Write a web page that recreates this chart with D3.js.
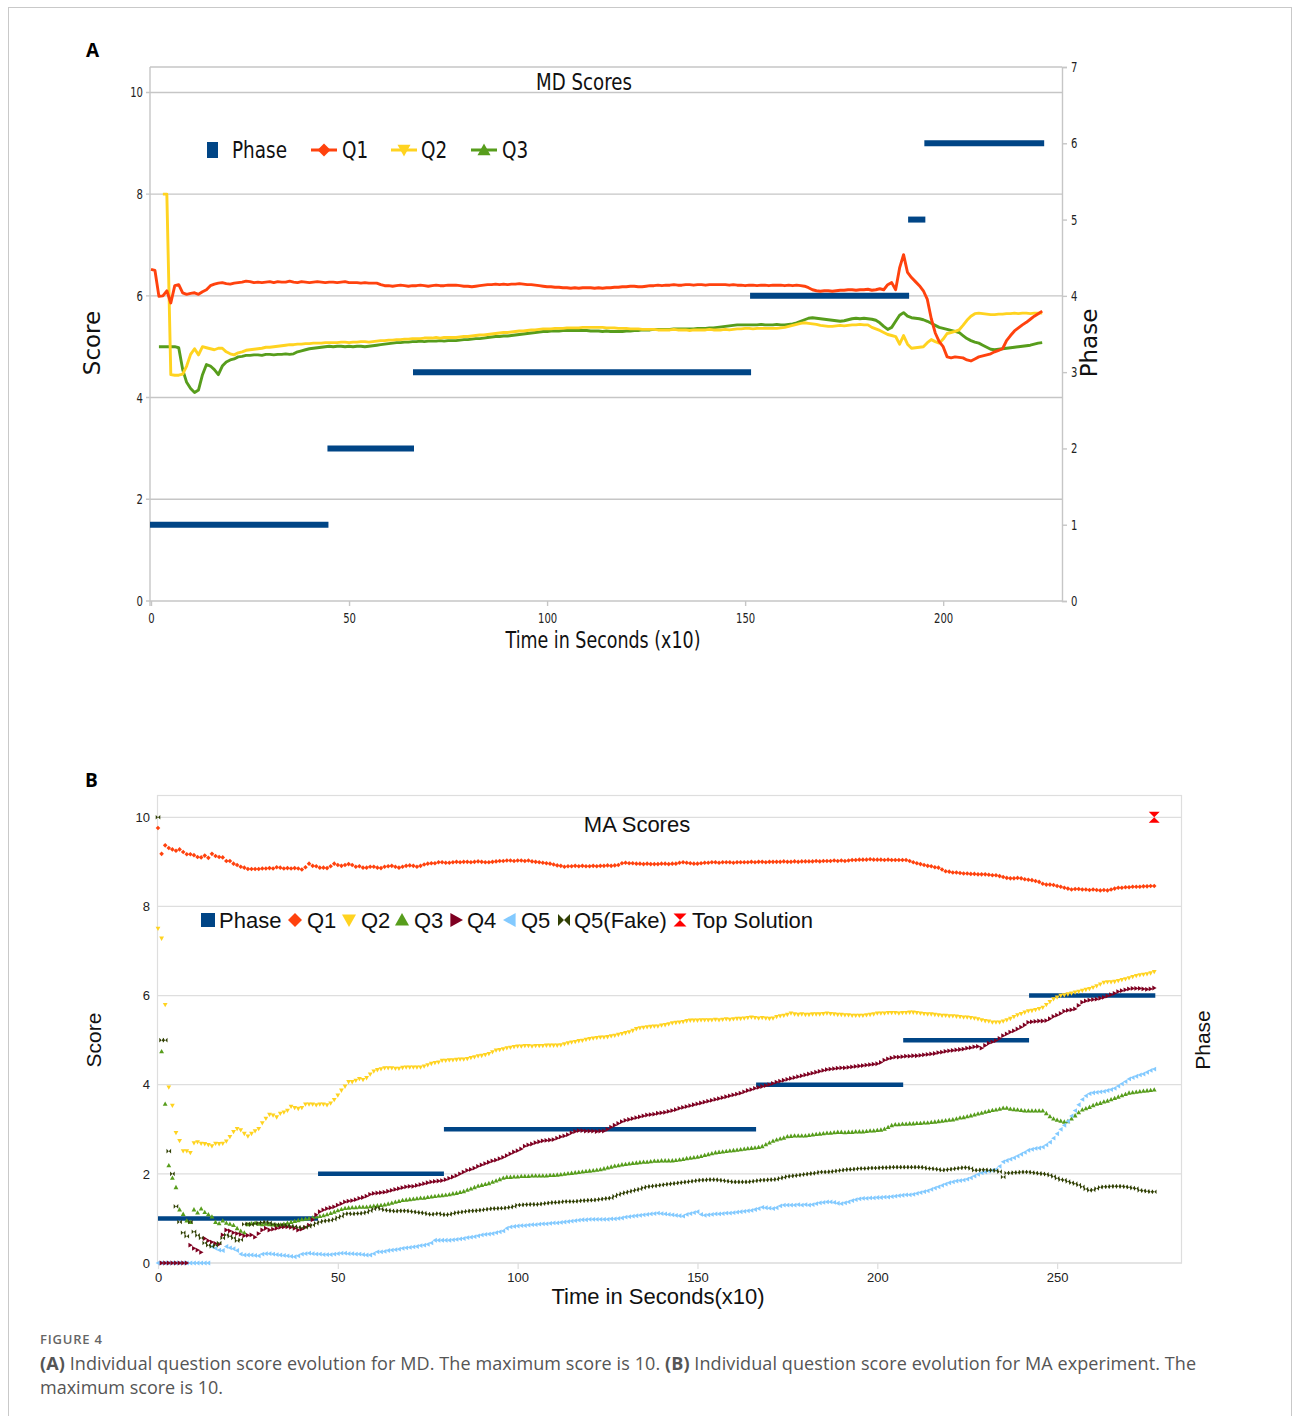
<!DOCTYPE html>
<html>
<head>
<meta charset="utf-8">
<script src="https://cdnjs.cloudflare.com/ajax/libs/d3/7.8.5/d3.min.js"></script>
<style>
  body { margin: 0; background: #fff; }
  svg { display: block; }
</style>
</head>
<body>
<svg id="fig" width="1293" height="1416"></svg>
<script>
// ---------- Panel A: MD scores, one sample per time step (x10 s) ----------
const mdQ1 = [
  6.52,6.50,5.99,6.00,6.10,5.86,6.20,6.22,6.06,6.03,
  6.05,6.06,6.03,6.08,6.12,6.20,6.23,6.25,6.26,6.24,
  6.23,6.25,6.26,6.27,6.29,6.28,6.26,6.27,6.26,6.27,
  6.28,6.26,6.28,6.27,6.27,6.29,6.27,6.26,6.28,6.27,
  6.26,6.27,6.28,6.27,6.26,6.27,6.27,6.26,6.27,6.28,
  6.26,6.26,6.26,6.25,6.26,6.25,6.25,6.25,6.22,6.20,
  6.20,6.19,6.20,6.21,6.20,6.19,6.20,6.20,6.21,6.20,
  6.19,6.20,6.21,6.20,6.20,6.21,6.21,6.21,6.20,6.19,
  6.19,6.18,6.19,6.20,6.21,6.22,6.22,6.23,6.22,6.23,
  6.22,6.23,6.23,6.24,6.23,6.22,6.22,6.21,6.20,6.19,
  6.18,6.18,6.17,6.17,6.16,6.16,6.15,6.16,6.15,6.16,
  6.16,6.16,6.15,6.16,6.15,6.16,6.16,6.17,6.17,6.18,
  6.18,6.19,6.19,6.18,6.18,6.19,6.20,6.20,6.21,6.20,
  6.21,6.21,6.22,6.21,6.21,6.22,6.22,6.21,6.22,6.22,
  6.21,6.22,6.22,6.22,6.22,6.22,6.21,6.22,6.21,6.21,
  6.20,6.21,6.21,6.20,6.21,6.21,6.20,6.21,6.21,6.21,
  6.20,6.21,6.20,6.21,6.20,6.19,6.16,6.12,6.10,6.09,
  6.10,6.10,6.09,6.10,6.11,6.11,6.12,6.12,6.11,6.12,
  6.12,6.13,6.11,6.12,6.14,6.12,6.22,6.26,6.12,6.55,
  6.81,6.46,6.36,6.28,6.20,6.10,5.93,5.55,5.27,5.10,
  5.00,4.80,4.78,4.80,4.79,4.78,4.74,4.72,4.76,4.80,
  4.82,4.84,4.86,4.90,4.93,4.96,5.12,5.22,5.31,5.37,
  5.43,5.48,5.54,5.60,5.65,5.70
];
const mdQ2 = [
  null,null,null,8.00,8.00,4.45,4.44,4.44,4.46,4.62,
  4.85,4.96,4.84,5.00,4.98,4.96,4.94,4.97,4.97,4.90,
  4.86,4.84,4.88,4.90,4.93,4.94,4.95,4.96,4.97,4.99,
  4.99,5.00,5.01,5.02,5.03,5.04,5.04,5.05,5.05,5.06,
  5.06,5.07,5.07,5.07,5.08,5.08,5.08,5.08,5.09,5.09,
  5.08,5.09,5.09,5.10,5.10,5.09,5.10,5.11,5.12,5.12,
  5.13,5.13,5.14,5.14,5.15,5.15,5.16,5.16,5.16,5.17,
  5.17,5.17,5.18,5.17,5.18,5.18,5.18,5.18,5.19,5.20,
  5.20,5.21,5.22,5.23,5.23,5.24,5.25,5.26,5.27,5.28,
  5.28,5.29,5.30,5.31,5.31,5.32,5.33,5.33,5.34,5.35,
  5.35,5.35,5.36,5.36,5.36,5.37,5.37,5.37,5.37,5.38,
  5.38,5.38,5.38,5.38,5.38,5.37,5.37,5.37,5.36,5.36,
  5.36,5.35,5.35,5.35,5.34,5.34,5.34,5.34,5.33,5.33,
  5.33,5.33,5.34,5.33,5.33,5.33,5.32,5.33,5.33,5.33,
  5.33,5.34,5.33,5.33,5.33,5.34,5.33,5.34,5.35,5.35,
  5.36,5.36,5.35,5.36,5.36,5.36,5.36,5.36,5.36,5.37,
  5.38,5.40,5.42,5.44,5.46,5.47,5.46,5.45,5.44,5.42,
  5.41,5.40,5.40,5.41,5.42,5.41,5.42,5.43,5.43,5.44,
  5.43,5.43,5.38,5.35,5.32,5.28,5.24,5.22,5.20,5.05,
  5.22,5.05,4.97,4.98,4.99,5.00,5.08,5.14,5.10,5.07,
  5.15,5.26,5.28,5.30,5.33,5.42,5.52,5.60,5.65,5.66,
  5.65,5.64,5.63,5.63,5.64,5.64,5.65,5.65,5.66,5.65,
  5.66,5.66,5.65,5.66,5.66,5.66
];
const mdQ3 = [
  null,null,5.00,5.00,5.00,5.00,5.00,4.98,4.55,4.30,
  4.18,4.10,4.15,4.45,4.65,4.62,4.55,4.45,4.62,4.70,
  4.74,4.76,4.80,4.81,4.83,4.83,4.84,4.84,4.83,4.85,
  4.85,4.84,4.85,4.85,4.86,4.85,4.86,4.90,4.92,4.94,
  4.96,4.97,4.98,4.99,5.00,5.01,5.00,5.01,5.01,5.00,
  5.01,5.00,5.01,5.01,5.00,5.01,5.02,5.03,5.04,5.05,
  5.06,5.07,5.08,5.08,5.09,5.09,5.10,5.10,5.11,5.10,
  5.11,5.11,5.11,5.12,5.11,5.12,5.12,5.12,5.13,5.14,
  5.14,5.15,5.16,5.16,5.17,5.18,5.19,5.20,5.20,5.21,
  5.21,5.22,5.23,5.24,5.25,5.26,5.27,5.28,5.29,5.30,
  5.30,5.31,5.31,5.31,5.32,5.32,5.32,5.32,5.32,5.32,
  5.32,5.31,5.31,5.31,5.30,5.31,5.30,5.30,5.30,5.30,
  5.31,5.31,5.32,5.32,5.33,5.33,5.33,5.34,5.34,5.34,
  5.34,5.34,5.35,5.35,5.35,5.35,5.35,5.35,5.36,5.36,
  5.36,5.37,5.37,5.38,5.39,5.40,5.41,5.42,5.43,5.43,
  5.43,5.43,5.43,5.43,5.44,5.43,5.43,5.43,5.44,5.43,
  5.43,5.44,5.45,5.47,5.50,5.53,5.56,5.57,5.56,5.55,
  5.54,5.53,5.52,5.51,5.50,5.51,5.53,5.55,5.56,5.55,
  5.56,5.55,5.54,5.52,5.47,5.40,5.34,5.38,5.50,5.62,
  5.67,5.60,5.57,5.56,5.55,5.53,5.50,5.46,5.42,5.38,
  5.36,5.34,5.32,5.30,5.28,5.22,5.16,5.12,5.09,5.07,
  5.03,4.99,4.95,4.94,4.95,4.96,4.97,4.98,4.99,5.00,
  5.01,5.02,5.03,5.05,5.07,5.08
];
// phase segments: start time, end time, phase number
const mdPhaseStart = [0, 44.8, 66.4, 151.5, 191.4, 195.5];
const mdPhaseEnd   = [44.8, 66.4, 151.5, 191.4, 195.5, 225.5];
const mdPhaseLevel = [1, 2, 3, 4, 5, 6];
const mdTimeTicks  = [0, 50, 100, 150, 200];
const mdScoreTicks = [0, 2, 4, 6, 8, 10];
const mdPhaseTicks = [0, 1, 2, 3, 4, 5, 6, 7];

// ---------- Panel B: MA scores, one sample per time step (x10 s) ----------
const maQ1 = [
  9.76,9.18,9.37,9.31,9.28,9.25,9.28,9.22,9.17,9.17,
  9.15,9.11,9.10,9.14,9.09,9.18,9.13,9.11,9.10,9.02,
  9.02,8.96,8.93,8.89,8.87,8.84,8.84,8.84,8.84,8.85,
  8.85,8.86,8.85,8.88,8.87,8.85,8.86,8.85,8.86,8.85,
  8.83,8.88,8.96,8.91,8.90,8.87,8.87,8.86,8.90,8.96,
  8.93,8.91,8.93,8.95,8.93,8.89,8.90,8.87,8.87,8.89,
  8.89,8.87,8.86,8.89,8.90,8.91,8.89,8.87,8.89,8.91,
  8.92,8.91,8.89,8.91,8.94,8.96,8.97,8.97,8.99,8.99,
  8.98,8.98,8.99,9.00,8.99,9.00,9.00,8.99,9.00,9.01,
  9.00,8.99,8.99,9.00,9.01,9.02,9.02,9.03,9.03,9.02,
  9.03,9.03,9.02,9.03,9.01,9.00,8.99,8.98,8.97,8.96,
  8.94,8.92,8.91,8.89,8.90,8.90,8.91,8.90,8.91,8.90,
  8.90,8.91,8.90,8.91,8.91,8.92,8.91,8.92,8.93,8.97,
  8.98,8.97,8.97,8.96,8.96,8.95,8.96,8.95,8.95,8.95,
  8.96,8.96,8.95,8.96,8.96,8.98,8.99,8.98,8.97,8.96,
  8.96,8.97,8.98,8.98,8.99,8.99,8.98,8.99,8.99,8.99,
  8.98,8.99,8.99,8.99,8.99,9.00,8.99,9.00,9.00,8.99,
  9.00,9.00,9.00,9.00,9.01,9.00,9.00,9.01,9.00,9.01,
  9.01,9.01,9.01,9.02,9.01,9.02,9.02,9.02,9.03,9.02,
  9.03,9.02,9.03,9.04,9.04,9.05,9.05,9.05,9.06,9.05,
  9.05,9.05,9.04,9.05,9.04,9.04,9.04,9.04,9.04,9.02,
  8.99,8.97,8.95,8.93,8.91,8.90,8.88,8.87,8.83,8.79,
  8.78,8.76,8.76,8.75,8.74,8.74,8.73,8.73,8.72,8.72,
  8.72,8.71,8.70,8.70,8.68,8.66,8.64,8.63,8.63,8.64,
  8.63,8.61,8.60,8.59,8.57,8.55,8.51,8.49,8.49,8.48,
  8.46,8.44,8.42,8.40,8.38,8.39,8.39,8.38,8.38,8.37,
  8.38,8.37,8.36,8.37,8.36,8.38,8.40,8.42,8.42,8.43,
  8.43,8.44,8.44,8.44,8.45,8.45,8.46,8.46
];
const maQ2 = [
  7.50,7.28,5.79,3.94,3.53,2.92,2.74,2.51,2.51,2.47,
  2.69,2.71,2.68,2.67,2.65,2.62,2.68,2.67,2.68,2.73,
  2.83,2.94,3.01,2.98,2.90,2.84,2.90,2.96,3.01,3.14,
  3.24,3.33,3.31,3.27,3.35,3.38,3.42,3.51,3.48,3.46,
  3.48,3.56,3.56,3.56,3.54,3.56,3.56,3.54,3.58,3.66,
  3.76,3.87,3.96,4.06,4.06,4.09,4.13,4.11,4.15,4.23,
  4.30,4.33,4.35,4.37,4.37,4.37,4.36,4.36,4.38,4.39,
  4.39,4.39,4.39,4.39,4.41,4.44,4.47,4.49,4.50,4.54,
  4.54,4.55,4.55,4.56,4.57,4.57,4.58,4.60,4.62,4.64,
  4.65,4.67,4.69,4.73,4.77,4.78,4.80,4.82,4.83,4.85,
  4.86,4.86,4.87,4.87,4.86,4.87,4.87,4.87,4.88,4.88,
  4.88,4.88,4.89,4.91,4.93,4.95,4.96,4.98,4.99,5.01,
  5.03,5.04,5.05,5.06,5.06,5.07,5.09,5.10,5.12,5.14,
  5.16,5.18,5.21,5.25,5.27,5.28,5.29,5.30,5.31,5.31,
  5.33,5.34,5.36,5.38,5.39,5.40,5.41,5.43,5.44,5.44,
  5.44,5.45,5.45,5.45,5.45,5.46,5.45,5.46,5.47,5.46,
  5.47,5.48,5.48,5.49,5.50,5.51,5.50,5.49,5.50,5.49,
  5.48,5.49,5.52,5.54,5.55,5.57,5.60,5.58,5.57,5.58,
  5.57,5.57,5.58,5.58,5.58,5.59,5.60,5.59,5.58,5.57,
  5.57,5.56,5.56,5.55,5.55,5.55,5.55,5.56,5.57,5.58,
  5.60,5.60,5.60,5.61,5.61,5.61,5.60,5.61,5.61,5.62,
  5.62,5.61,5.60,5.59,5.58,5.58,5.57,5.56,5.55,5.55,
  5.54,5.54,5.53,5.52,5.51,5.51,5.50,5.49,5.47,5.45,
  5.43,5.42,5.40,5.40,5.40,5.42,5.45,5.48,5.52,5.56,
  5.59,5.62,5.65,5.66,5.68,5.70,5.73,5.79,5.86,5.92,
  5.96,6.00,6.01,6.03,6.05,6.07,6.09,6.11,6.13,6.15,
  6.18,6.21,6.25,6.29,6.30,6.30,6.31,6.33,6.35,6.37,
  6.39,6.42,6.44,6.46,6.47,6.48,6.50,6.53
];
const maQ3 = [
  null,4.75,3.57,2.19,1.91,1.70,1.20,1.10,0.95,0.92,
  1.20,1.13,1.22,1.14,1.09,1.04,0.92,0.89,0.95,0.90,
  0.88,0.85,0.78,0.72,0.68,0.87,0.89,0.90,0.88,0.87,
  0.88,0.87,0.86,0.85,0.86,0.88,0.90,0.92,0.94,0.96,
  0.98,0.99,1.00,1.02,1.04,1.05,1.07,1.09,1.12,1.15,
  1.18,1.21,1.23,1.24,1.25,1.25,1.26,1.26,1.26,1.27,
  1.28,1.29,1.30,1.31,1.33,1.35,1.37,1.39,1.41,1.42,
  1.43,1.44,1.45,1.46,1.46,1.48,1.49,1.50,1.51,1.52,
  1.53,1.54,1.56,1.57,1.59,1.61,1.64,1.67,1.70,1.73,
  1.75,1.77,1.79,1.82,1.85,1.88,1.91,1.93,1.93,1.94,
  1.94,1.95,1.95,1.95,1.96,1.96,1.96,1.96,1.96,1.97,
  1.97,1.98,1.99,2.00,2.01,2.02,2.03,2.04,2.05,2.06,
  2.07,2.08,2.09,2.10,2.12,2.14,2.16,2.18,2.19,2.21,
  2.22,2.23,2.24,2.25,2.26,2.27,2.27,2.28,2.29,2.29,
  2.30,2.30,2.30,2.30,2.31,2.32,2.33,2.35,2.36,2.37,
  2.38,2.40,2.42,2.44,2.46,2.48,2.49,2.50,2.51,2.52,
  2.53,2.54,2.55,2.56,2.57,2.58,2.59,2.60,2.62,2.66,
  2.70,2.74,2.77,2.79,2.81,2.84,2.85,2.86,2.86,2.86,
  2.86,2.87,2.88,2.89,2.90,2.91,2.92,2.92,2.93,2.94,
  2.94,2.93,2.94,2.94,2.95,2.95,2.95,2.96,2.97,2.97,
  2.98,2.99,3.01,3.05,3.09,3.11,3.11,3.12,3.12,3.13,
  3.13,3.14,3.14,3.15,3.15,3.16,3.17,3.18,3.19,3.20,
  3.21,3.22,3.24,3.26,3.27,3.29,3.31,3.33,3.35,3.37,
  3.39,3.41,3.43,3.44,3.46,3.48,3.48,3.46,3.45,3.44,
  3.43,3.42,3.42,3.42,3.42,3.42,3.42,3.36,3.29,3.24,
  3.21,3.19,3.17,3.18,3.24,3.31,3.38,3.44,3.47,3.50,
  3.54,3.57,3.59,3.62,3.64,3.67,3.70,3.73,3.76,3.79,
  3.82,3.83,3.84,3.85,3.86,3.87,3.88,3.89
];
const maQ4 = [
  null,0,0,0,0,0,0,0,0,0.40,
  0.33,0.29,0.24,0.55,0.50,0.47,0.44,0.42,0.63,0.74,
  0.72,0.68,0.66,0.64,0.61,0.62,0.63,0.58,0.66,0.74,
  0.78,0.74,0.76,0.78,0.80,0.81,0.81,0.80,0.78,0.74,
  0.76,0.80,0.85,0.97,1.08,1.15,1.19,1.22,1.24,1.26,
  1.30,1.33,1.37,1.39,1.40,1.42,1.45,1.47,1.50,1.54,
  1.56,1.57,1.58,1.59,1.61,1.63,1.65,1.67,1.69,1.71,
  1.72,1.72,1.74,1.76,1.78,1.80,1.82,1.83,1.84,1.85,
  1.87,1.90,1.93,1.96,2.00,2.04,2.08,2.10,2.13,2.17,
  2.20,2.23,2.26,2.29,2.31,2.34,2.37,2.41,2.45,2.49,
  2.52,2.56,2.62,2.65,2.67,2.70,2.72,2.74,2.75,2.76,
  2.77,2.80,2.83,2.85,2.88,2.92,2.95,2.97,2.97,2.96,
  2.96,2.96,2.95,2.96,2.96,3.00,3.05,3.09,3.13,3.17,
  3.20,3.22,3.24,3.26,3.28,3.30,3.32,3.33,3.34,3.36,
  3.37,3.38,3.40,3.42,3.44,3.47,3.49,3.51,3.53,3.55,
  3.57,3.59,3.61,3.63,3.65,3.67,3.69,3.71,3.73,3.75,
  3.77,3.79,3.81,3.84,3.87,3.89,3.92,3.94,3.96,3.98,
  4.00,4.03,4.06,4.08,4.10,4.12,4.14,4.16,4.18,4.20,
  4.22,4.24,4.26,4.28,4.30,4.32,4.34,4.35,4.36,4.37,
  4.38,4.38,4.39,4.40,4.41,4.42,4.43,4.44,4.45,4.46,
  4.47,4.50,4.55,4.58,4.60,4.62,4.62,4.63,4.64,4.64,
  4.65,4.65,4.66,4.67,4.68,4.69,4.70,4.72,4.73,4.75,
  4.76,4.77,4.78,4.79,4.80,4.82,4.83,4.85,4.86,4.82,
  4.88,4.93,4.96,4.99,5.04,5.10,5.14,5.18,5.21,5.25,
  5.29,5.34,5.40,5.41,5.42,5.43,5.43,5.44,5.48,5.53,
  5.56,5.60,5.65,5.67,5.68,5.70,5.78,5.85,5.88,5.90,
  5.91,5.92,5.94,5.96,5.99,6.02,6.05,6.09,6.11,6.13,
  6.15,6.16,6.16,6.16,6.15,6.14,6.15,6.17
];
const maQ5 = [
  0,0,0,0,0,0,0,0,0,0,
  0,0,0,0,0,0.37,0.33,0.29,0.28,0.37,
  0.34,0.32,0.28,0.20,0.18,0.18,0.18,0.17,0.16,0.20,
  0.21,0.21,0.20,0.19,0.18,0.17,0.16,0.15,0.14,0.16,
  0.20,0.21,0.22,0.21,0.20,0.20,0.19,0.19,0.19,0.20,
  0.21,0.22,0.22,0.21,0.21,0.20,0.20,0.19,0.18,0.18,
  0.21,0.25,0.25,0.26,0.28,0.29,0.30,0.31,0.33,0.34,
  0.35,0.36,0.37,0.39,0.40,0.42,0.45,0.51,0.51,0.51,
  0.51,0.51,0.52,0.53,0.54,0.55,0.57,0.58,0.59,0.61,
  0.63,0.64,0.65,0.66,0.68,0.70,0.72,0.78,0.81,0.82,
  0.83,0.84,0.84,0.85,0.86,0.86,0.87,0.88,0.88,0.89,
  0.90,0.90,0.91,0.92,0.93,0.94,0.95,0.96,0.97,0.97,
  0.98,0.98,0.98,0.98,0.98,0.98,0.99,0.99,1.00,1.01,
  1.03,1.04,1.05,1.06,1.07,1.08,1.09,1.10,1.11,1.12,
  1.11,1.10,1.09,1.08,1.07,1.06,1.05,1.09,1.11,1.13,
  1.15,1.09,1.07,1.08,1.09,1.10,1.10,1.11,1.12,1.12,
  1.13,1.14,1.15,1.16,1.17,1.18,1.20,1.22,1.25,1.24,
  1.23,1.22,1.24,1.28,1.30,1.30,1.30,1.30,1.31,1.30,
  1.31,1.30,1.31,1.33,1.35,1.36,1.37,1.37,1.36,1.34,
  1.33,1.35,1.37,1.40,1.42,1.44,1.45,1.45,1.46,1.46,
  1.47,1.47,1.48,1.48,1.49,1.50,1.51,1.52,1.53,1.53,
  1.54,1.56,1.58,1.60,1.62,1.65,1.68,1.71,1.74,1.77,
  1.80,1.82,1.84,1.85,1.86,1.88,1.91,1.95,1.99,2.02,
  2.04,2.06,2.08,2.10,2.17,2.27,2.30,2.33,2.36,2.40,
  2.44,2.48,2.53,2.55,2.57,2.58,2.60,2.65,2.71,2.80,
  2.90,3.00,3.09,3.18,3.30,3.42,3.55,3.67,3.75,3.80,
  3.82,3.83,3.84,3.85,3.87,3.89,3.92,3.97,4.02,4.07,
  4.13,4.16,4.19,4.22,4.24,4.28,4.32,4.35
];
const maQ5Fake = [
  10.0,5.00,5.00,2.51,2.00,1.27,0.92,0.68,0.60,0.92,
  0.70,0.62,0.56,0.45,0.40,0.37,0.40,0.45,0.56,0.63,
  0.60,0.56,0.50,0.52,0.87,0.88,0.86,0.88,0.90,0.91,
  0.92,0.90,0.87,0.86,0.85,0.85,0.84,0.83,0.82,0.80,
  0.79,0.80,0.82,0.85,0.89,0.92,0.94,0.95,0.96,0.98,
  1.02,1.05,1.10,1.11,1.10,1.11,1.11,1.12,1.14,1.17,
  1.21,1.24,1.21,1.19,1.18,1.17,1.16,1.17,1.17,1.17,
  1.16,1.15,1.14,1.13,1.12,1.10,1.09,1.10,1.11,1.09,
  1.08,1.09,1.11,1.13,1.14,1.15,1.16,1.17,1.17,1.18,
  1.19,1.20,1.21,1.22,1.22,1.23,1.23,1.24,1.25,1.27,
  1.30,1.30,1.31,1.31,1.32,1.31,1.32,1.33,1.34,1.35,
  1.36,1.36,1.37,1.38,1.38,1.38,1.38,1.39,1.40,1.40,
  1.41,1.41,1.42,1.43,1.44,1.45,1.46,1.50,1.53,1.56,
  1.58,1.60,1.62,1.64,1.66,1.69,1.71,1.72,1.73,1.74,
  1.75,1.76,1.77,1.78,1.79,1.80,1.81,1.82,1.83,1.84,
  1.85,1.86,1.86,1.87,1.87,1.87,1.86,1.85,1.84,1.83,
  1.82,1.82,1.82,1.82,1.82,1.83,1.84,1.85,1.86,1.86,
  1.87,1.87,1.88,1.90,1.92,1.94,1.95,1.96,1.97,1.98,
  1.99,2.00,2.01,2.02,2.04,2.04,2.04,2.05,2.06,2.07,
  2.08,2.09,2.10,2.10,2.11,2.12,2.12,2.12,2.13,2.13,
  2.13,2.14,2.14,2.14,2.15,2.15,2.15,2.15,2.15,2.15,
  2.15,2.15,2.15,2.14,2.12,2.12,2.11,2.10,2.08,2.09,
  2.10,2.11,2.12,2.13,2.14,2.14,2.12,2.08,2.08,2.09,
  2.09,2.08,2.08,2.07,2.05,1.93,2.02,2.02,2.03,2.03,
  2.04,2.04,2.04,2.03,2.02,2.01,2.00,1.99,1.97,1.94,
  1.90,1.87,1.86,1.83,1.80,1.78,1.75,1.71,1.66,1.63,
  1.64,1.67,1.70,1.71,1.71,1.72,1.72,1.72,1.72,1.71,
  1.70,1.68,1.67,1.63,1.62,1.61,1.60,1.60
];
const maPhaseStart = [0, 44.5, 79.5, 166.3, 207.2, 242.2];
const maPhaseEnd   = [44.5, 79.5, 166.3, 207.2, 242.2, 277.3];
const maPhaseLevel = [1, 2, 3, 4, 5, 6];
const maTopTime  = [277];
const maTopScore = [10];
const maTimeTicks  = [0, 50, 100, 150, 200, 250];
const maScoreTicks = [0, 2, 4, 6, 8, 10];

// ---------- palette ----------
const C = {
  phase: '#004586', q1: '#ff420e', q2: '#ffd320', q3: '#579d1c',
  q4: '#7e0021', q5: '#83caff', fake: '#314004', top: '#ff0000'
};

const svg = d3.select('#fig');
svg.append('rect').attr('width', 1293).attr('height', 1416).attr('fill', '#fff');
// figure frame
svg.append('rect').attr('x', 8.5).attr('y', 7.5).attr('width', 1283).attr('height', 1440)
  .attr('fill', 'none').attr('stroke', '#c9c9c9').attr('stroke-width', 1);

// marker outlines centred on 0,0
function markerPath(shape, r) {
  switch (shape) {
    case 'square': return `M${-r},${-r}H${r}V${r}H${-r}Z`;
    case 'diamond': return `M0,${-r}L${r},0L0,${r}L${-r},0Z`;
    case 'down': return `M${-r},${-r * 0.8}L${r},${-r * 0.8}L0,${r}Z`;
    case 'up': return `M${-r},${r * 0.8}L${r},${r * 0.8}L0,${-r}Z`;
    case 'right': return `M${-r * 0.8},${-r}L${r},0L${-r * 0.8},${r}Z`;
    case 'left': return `M${r * 0.8},${-r}L${-r},0L${r * 0.8},${r}Z`;
    case 'bowtie': return `M${-r},${-r}L0,0L${-r},${r}ZM${r},${-r}L0,0L${r},${r}Z`;
    case 'hourglass': return `M${-r},${-r}H${r}L0,0ZM${-r},${r}H${r}L0,0Z`;
  }
}

// squeeze a text run horizontally, keeping its anchor
function condense(sel, k) {
  sel.each(function () {
    const w = this.getComputedTextLength();
    this.setAttribute('textLength', (w * k).toFixed(1));
    this.setAttribute('lengthAdjust', 'spacingAndGlyphs');
  });
}

// =================== Panel A ===================
const A = svg.append('g');
const xA = d3.scaleLinear().domain([0, 230]).range([151, 1062]);
const yA = d3.scaleLinear().domain([0, 10.5]).range([601, 67]);
const pA = d3.scaleLinear().domain([0, 7]).range([601, 67]);
const fontA = 'DejaVu Sans, Verdana, sans-serif';
const gridA = '#c6c6c6';

A.append('text').attr('x', 86).attr('y', 57).text('A')
  .attr('font-family', 'Open Sans, Liberation Sans, sans-serif').attr('font-weight', 700)
  .attr('font-size', 19).attr('fill', '#000');

// horizontal grid lines (score)
A.append('g').selectAll('line').data(mdScoreTicks).join('line')
  .attr('x1', 146).attr('x2', xA.range()[1])
  .attr('y1', d => yA(d)).attr('y2', d => yA(d))
  .attr('stroke', gridA).attr('stroke-width', 1.4);
// frame: top edge, left axis
A.append('line').attr('x1', 150).attr('x2', 1062).attr('y1', 67).attr('y2', 67)
  .attr('stroke', gridA).attr('stroke-width', 1.4);
A.append('line').attr('x1', 150).attr('x2', 150).attr('y1', 67).attr('y2', 606)
  .attr('stroke', gridA).attr('stroke-width', 1.4);

// bottom axis
const axA = A.append('g').attr('transform', 'translate(0,601)')
  .call(d3.axisBottom(xA).tickValues(mdTimeTicks).tickSize(5).tickPadding(7));
axA.select('.domain').remove();
axA.selectAll('line').attr('stroke', gridA).attr('stroke-width', 1.4);
axA.selectAll('text').attr('font-family', fontA).attr('font-size', 14).attr('fill', '#222');
condense(axA.selectAll('text'), 0.72);

// left axis labels
const ayA = A.append('g').attr('transform', 'translate(150,0)')
  .call(d3.axisLeft(yA).tickValues(mdScoreTicks).tickSize(0).tickPadding(7));
ayA.select('.domain').remove();
ayA.selectAll('text').attr('font-family', fontA).attr('font-size', 14).attr('fill', '#222');
condense(ayA.selectAll('text'), 0.72);

// right (phase) axis
const apA = A.append('g').attr('transform', 'translate(1062,0)')
  .call(d3.axisRight(pA).tickValues(mdPhaseTicks).tickFormat(d3.format('d')).tickSize(5).tickPadding(4));
apA.select('.domain').attr('stroke', gridA).attr('stroke-width', 1.4);
apA.selectAll('line').attr('stroke', gridA).attr('stroke-width', 1.4);
apA.selectAll('text').attr('font-family', fontA).attr('font-size', 14).attr('fill', '#222');
condense(apA.selectAll('text'), 0.72);

// phase bars
A.append('g').selectAll('line').data(mdPhaseLevel).join('line')
  .attr('x1', (d, i) => xA(mdPhaseStart[i]) - 1).attr('x2', (d, i) => xA(mdPhaseEnd[i]))
  .attr('y1', d => pA(d)).attr('y2', d => pA(d))
  .attr('stroke', C.phase).attr('stroke-width', 6);

// score lines
const lineA = d3.line().defined(d => d != null).x((d, i) => xA(i)).y(d => yA(d));
[[mdQ3, C.q3], [mdQ2, C.q2], [mdQ1, C.q1]].forEach(([vals, col]) => {
  A.append('path').attr('d', lineA(vals))
    .attr('fill', 'none').attr('stroke', col).attr('stroke-width', 2.9)
    .attr('stroke-linejoin', 'round');
});

// titles
const tA = A.append('text').attr('x', 584).attr('y', 90).attr('text-anchor', 'middle')
  .attr('font-family', fontA).attr('font-size', 23).attr('fill', '#111').text('MD Scores');
condense(tA, 0.79);
const xtA = A.append('text').attr('x', 603).attr('y', 648).attr('text-anchor', 'middle')
  .attr('font-family', fontA).attr('font-size', 23).attr('fill', '#111').text('Time in Seconds (x10)');
condense(xtA, 0.76);
A.append('text').attr('transform', 'translate(100,343) rotate(-90)').attr('text-anchor', 'middle')
  .attr('font-family', fontA).attr('font-size', 23).attr('fill', '#111').text('Score');
A.append('text').attr('transform', 'translate(1097,343) rotate(-90)').attr('text-anchor', 'middle')
  .attr('font-family', fontA).attr('font-size', 23).attr('fill', '#111').text('Phase');

// legend
const legA = A.append('g');
legA.append('rect').attr('x', 207).attr('y', 142).attr('width', 11).attr('height', 16).attr('fill', C.phase);
const legItemsA = [
  { label: 'Phase', x: 232 },
  { label: 'Q1', x: 342, col: C.q1, shape: 'diamond', lx: 311 },
  { label: 'Q2', x: 421, col: C.q2, shape: 'down', lx: 391 },
  { label: 'Q3', x: 502, col: C.q3, shape: 'up', lx: 471 }
];
legItemsA.forEach(it => {
  if (it.col) {
    legA.append('line').attr('x1', it.lx).attr('x2', it.lx + 26).attr('y1', 150).attr('y2', 150)
      .attr('stroke', it.col).attr('stroke-width', 3);
    legA.append('path').attr('transform', `translate(${it.lx + 13},150)`)
      .attr('d', markerPath(it.shape, 6.5)).attr('fill', it.col);
  }
  const t = legA.append('text').attr('x', it.x).attr('y', 158).attr('font-family', fontA)
    .attr('font-size', 23).attr('fill', '#111').text(it.label);
  condense(t, 0.8);
});

// =================== Panel B ===================
const B = svg.append('g');
const xB = d3.scaleLinear().domain([0, 285]).range([158, 1183]);
const yB = d3.scaleLinear().domain([0, 10.5]).range([1263, 795]);
const fontB = 'Liberation Sans, Arial, sans-serif';
const gridB = '#dedede';

B.append('text').attr('x', 85).attr('y', 787).text('B')
  .attr('font-family', 'Open Sans, Liberation Sans, sans-serif').attr('font-weight', 700)
  .attr('font-size', 19).attr('fill', '#000');

// plot frame and grid
B.append('rect').attr('x', 157.5).attr('y', 795.5).attr('width', 1024).attr('height', 467.5)
  .attr('fill', 'none').attr('stroke', gridB).attr('stroke-width', 1.2);
B.append('g').selectAll('line').data(maScoreTicks).join('line')
  .attr('x1', 157).attr('x2', 1182)
  .attr('y1', d => yB(d)).attr('y2', d => yB(d))
  .attr('stroke', gridB).attr('stroke-width', 1.2);

const axB = B.append('g').attr('transform', 'translate(0,1263)')
  .call(d3.axisBottom(xB).tickValues(maTimeTicks).tickSize(6).tickPadding(4));
axB.select('.domain').remove();
axB.selectAll('line').attr('stroke', gridB).attr('stroke-width', 1.2);
axB.selectAll('text').attr('font-family', fontB).attr('font-size', 13).attr('fill', '#222');

const ayB = B.append('g').attr('transform', 'translate(157,0)')
  .call(d3.axisLeft(yB).tickValues(maScoreTicks).tickSize(0).tickPadding(7));
ayB.select('.domain').remove();
ayB.selectAll('text').attr('font-family', fontB).attr('font-size', 13).attr('fill', '#222');

// phase bars (drawn on the score scale)
B.append('g').selectAll('line').data(maPhaseLevel).join('line')
  .attr('x1', (d, i) => xB(maPhaseStart[i])).attr('x2', (d, i) => xB(maPhaseEnd[i]))
  .attr('y1', d => yB(d)).attr('y2', d => yB(d))
  .attr('stroke', C.phase).attr('stroke-width', 4.5);

// score markers
function drawSeries(vals, shape, col, r) {
  B.append('g').selectAll('path')
    .data(vals.map((v, i) => ({ t: i, v })).filter(d => d.v != null))
    .join('path')
    .attr('transform', d => `translate(${xB(d.t).toFixed(2)},${yB(d.v).toFixed(2)})`)
    .attr('d', markerPath(shape, r)).attr('fill', col);
}
drawSeries(maQ1, 'diamond', C.q1, 2.3);
drawSeries(maQ2, 'down', C.q2, 2.4);
drawSeries(maQ3, 'up', C.q3, 2.4);
drawSeries(maQ5, 'left', C.q5, 2.4);
drawSeries(maQ4, 'right', C.q4, 2.4);
drawSeries(maQ5Fake, 'bowtie', C.fake, 2.3);
B.append('g').selectAll('path').data(maTopScore).join('path')
  .attr('transform', (d, i) => `translate(${xB(maTopTime[i])},${yB(d)})`)
  .attr('d', markerPath('hourglass', 5.5)).attr('fill', C.top);

// titles
B.append('text').attr('x', 637).attr('y', 832).attr('text-anchor', 'middle')
  .attr('font-family', fontB).attr('font-size', 22).attr('fill', '#111').text('MA Scores');
B.append('text').attr('x', 658).attr('y', 1304).attr('text-anchor', 'middle')
  .attr('font-family', fontB).attr('font-size', 22).attr('fill', '#111').text('Time in Seconds(x10)');
B.append('text').attr('transform', 'translate(101,1040) rotate(-90)').attr('text-anchor', 'middle')
  .attr('font-family', fontB).attr('font-size', 21).attr('fill', '#111').text('Score');
B.append('text').attr('transform', 'translate(1210,1040) rotate(-90)').attr('text-anchor', 'middle')
  .attr('font-family', fontB).attr('font-size', 21).attr('fill', '#111').text('Phase');

// legend
const legItemsB = [
  { label: 'Phase', mx: 208, tx: 219, shape: 'square', col: C.phase, r: 7 },
  { label: 'Q1', mx: 295, tx: 307, shape: 'diamond', col: C.q1, r: 7 },
  { label: 'Q2', mx: 349, tx: 361, shape: 'down', col: C.q2, r: 7 },
  { label: 'Q3', mx: 402, tx: 414, shape: 'up', col: C.q3, r: 7 },
  { label: 'Q4', mx: 456, tx: 467, shape: 'right', col: C.q4, r: 7 },
  { label: 'Q5', mx: 510, tx: 521, shape: 'left', col: C.q5, r: 7 },
  { label: 'Q5(Fake)', mx: 564, tx: 574, shape: 'bowtie', col: C.fake, r: 6 },
  { label: 'Top Solution', mx: 680, tx: 692, shape: 'hourglass', col: C.top, r: 6.5 }
];
const legB = B.append('g');
legItemsB.forEach(it => {
  legB.append('path').attr('transform', `translate(${it.mx},920)`)
    .attr('d', markerPath(it.shape, it.r)).attr('fill', it.col);
  legB.append('text').attr('x', it.tx).attr('y', 928).attr('font-family', fontB)
    .attr('font-size', 22).attr('fill', '#111').text(it.label);
});

// =================== Caption ===================
const capFont = 'Open Sans, Liberation Sans, sans-serif';
svg.append('text').attr('x', 40).attr('y', 1344).attr('font-family', capFont)
  .attr('font-size', 13).attr('font-weight', 600).attr('letter-spacing', 0.8)
  .attr('fill', '#666').text('FIGURE 4');
const cap1 = svg.append('text').attr('x', 40).attr('y', 1370).attr('font-family', capFont)
  .attr('font-size', 18).attr('fill', '#555')
  .attr('textLength', 1156).attr('lengthAdjust', 'spacing');
cap1.append('tspan').attr('font-weight', 700).text('(A)');
cap1.append('tspan').text(' Individual question score evolution for MD. The maximum score is 10. ');
cap1.append('tspan').attr('font-weight', 700).text('(B)');
cap1.append('tspan').text(' Individual question score evolution for MA experiment. The');
svg.append('text').attr('x', 40).attr('y', 1394).attr('font-family', capFont)
  .attr('font-size', 18).attr('fill', '#555').text('maximum score is 10.');
</script>
</body>
</html>
